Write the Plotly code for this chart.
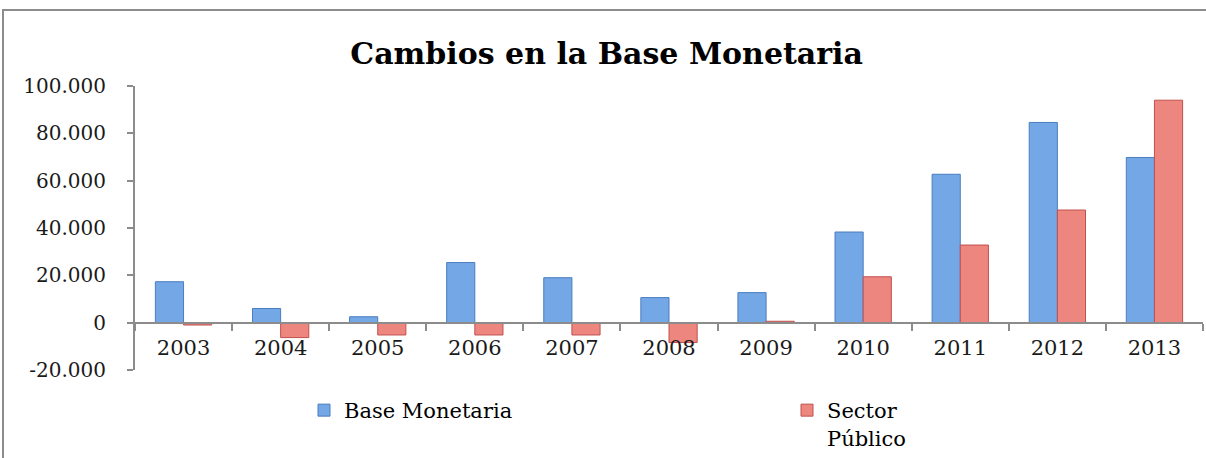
import plotly.graph_objects as go

years = ["2003", "2004", "2005", "2006", "2007", "2008", "2009", "2010", "2011", "2012", "2013"]
base_monetaria = [17300, 6000, 2500, 25400, 19000, 10600, 12700, 38300, 62700, 84600, 69800]
sector_publico = [-1000, -6300, -5200, -5200, -5200, -8400, 600, 19400, 32800, 47600, 94000]
y_tick_vals = [-20000, 0, 20000, 40000, 60000, 80000, 100000]
y_tick_text = ["-20.000", "0", "20.000", "40.000", "60.000", "80.000", "100.000"]

W, H = 1206, 458
L, R, T, B = 135, 3, 86, 88
pw, ph = W - L - R, H - T - B
y_min, y_max = -20000, 100000
zero_pos = (0 - y_min) / (y_max - y_min)


def px_x(p):
    return (p - L) / pw


def px_y(p):
    return (T + ph - p) / ph


fig = go.Figure()
fig.add_trace(go.Bar(
    x=years, y=base_monetaria, name="Base Monetaria", legend="legend",
    marker=dict(color="#74a7e6", line=dict(color="#4a7dbf", width=1)),
))
fig.add_trace(go.Bar(
    x=years, y=sector_publico, name="Sector<br>Público", legend="legend2",
    marker=dict(color="#ee8680", line=dict(color="#c0504d", width=1)),
))

serif = "DejaVu Serif"
leg_common = dict(orientation="v", xanchor="left", yanchor="top", valign="top",
                  font=dict(family=serif, size=21, color="black"),
                  bgcolor="rgba(0,0,0,0)")
fig.update_layout(
    width=W, height=H,
    margin=dict(l=L, r=R, t=T, b=B, autoexpand=False),
    paper_bgcolor="white", plot_bgcolor="white",
    barmode="group", bargap=0.42, bargroupgap=0,
    title=dict(text="<b>Cambios en la Base Monetaria</b>", x=0.503, xanchor="center",
               y=1 - 53 / H, yanchor="middle",
               font=dict(family=serif, size=30, color="black")),
    font=dict(family=serif, color="#1a1a1a"),
    showlegend=True,
    legend=dict(x=px_x(304), y=px_y(390), **leg_common),
    legend2=dict(x=px_x(787), y=px_y(390), **leg_common),
    xaxis=dict(type="category", anchor="free", position=zero_pos,
               showline=True, linecolor="#8c8c8c", linewidth=2,
               ticks="outside", ticklen=7, tickcolor="#8c8c8c", tickwidth=2,
               tickson="boundaries", showgrid=False, zeroline=False,
               ticklabelstandoff=6,
               tickfont=dict(family=serif, size=21, color="#1a1a1a")),
    yaxis=dict(range=[y_min, y_max], tickvals=y_tick_vals, ticktext=y_tick_text,
               showline=True, linecolor="#8c8c8c", linewidth=2,
               ticks="outside", ticklen=6, tickcolor="#8c8c8c", tickwidth=2,
               showgrid=False, zeroline=False, ticklabelstandoff=17,
               tickfont=dict(family=serif, size=20, color="#1a1a1a")),
    shapes=[dict(type="rect", xref="paper", yref="paper",
                 x0=px_x(3), x1=1.1, y0=-0.6, y1=px_y(10),
                 line=dict(color="#8c8c8c", width=2), layer="below")],
)

fig.write_html("out.html", config={"displayModeBar": False},
               post_script="document.body.style.margin='0';document.body.style.overflow='hidden';")
